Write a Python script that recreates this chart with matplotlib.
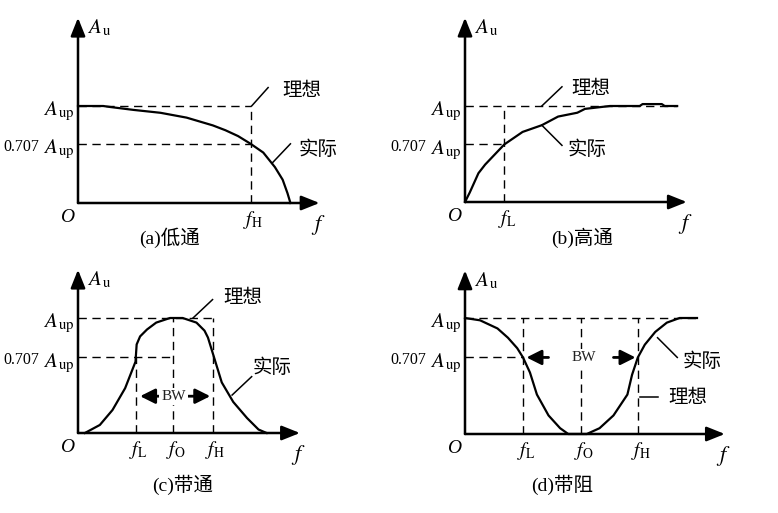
import matplotlib
matplotlib.use('Agg')
import matplotlib.pyplot as plt

plt.rcParams['font.family'] = ['Liberation Serif', 'Noto Sans CJK SC']
plt.rcParams['mathtext.fontset'] = 'stix'

# gain in units of A_up, frequency in the same drawing units

# (a) low-pass
lp_f = [0.00, 0.26, 0.33, 0.57, 0.85, 1.12, 1.39, 1.52, 1.65, 1.78, 1.91, 2.03, 2.11, 2.16, 2.19]
lp_A = [1.00, 1.00, 0.99, 0.96, 0.93, 0.88, 0.80, 0.75, 0.69, 0.61, 0.52, 0.37, 0.24, 0.10, 0.00]
lp_fH = 1.78
lp_half = 0.61

# (b) high-pass
hp_f = [0.00, 0.05, 0.14, 0.21, 0.41, 0.60, 0.80, 0.97, 1.17, 1.25, 1.51, 1.82, 1.85, 2.05, 2.08, 2.21]
hp_A = [0.00, 0.10, 0.30, 0.39, 0.60, 0.73, 0.80, 0.89, 0.93, 0.97, 1.00, 1.00, 1.02, 1.02, 1.00, 1.00]
hp_fL = 0.41
hp_half = 0.60

# (c) band-pass
bp_f = [0.06, 0.19, 0.30, 0.41, 0.50, 0.51, 0.54, 0.60, 0.68, 0.80, 0.91, 1.03, 1.10, 1.13, 1.17,
        1.25, 1.35, 1.47, 1.57, 1.64]
bp_A = [0.00, 0.07, 0.20, 0.39, 0.62, 0.77, 0.84, 0.90, 0.96, 1.00, 1.00, 0.96, 0.89, 0.83, 0.70,
        0.44, 0.27, 0.13, 0.03, 0.00]
bp_fL, bp_f0, bp_fH = 0.50, 0.83, 1.17
bp_half = 0.66

# (d) band-stop
bs_f = [0.00, 0.13, 0.28, 0.37, 0.45, 0.50, 0.56, 0.62, 0.72, 0.82, 0.89, 1.05, 1.16, 1.28,
        1.40, 1.44, 1.49, 1.55, 1.64, 1.74, 1.85, 2.00]
bs_A = [1.00, 0.98, 0.91, 0.83, 0.74, 0.66, 0.53, 0.34, 0.16, 0.05, 0.00, 0.00, 0.05, 0.16,
        0.34, 0.51, 0.66, 0.77, 0.88, 0.96, 1.00, 1.00]
bs_fL, bs_f0, bs_fH = 0.50, 1.00, 1.49
bs_half = 0.66

W, H = 778, 513
fig = plt.figure(figsize=(W / 100, H / 100), dpi=100)

dash = (0, (6, 4))


def make_panel(ox, oy, s):
    # one transparent axes over the whole figure, origin at pixel (ox, oy)
    ax = fig.add_axes([0, 0, 1, 1])
    ax.set_xlim(-ox / s, (W - ox) / s)
    ax.set_ylim(-(H - oy) / s, oy / s)
    ax.set_axis_off()
    ax.patch.set_alpha(0)
    return ax


def draw_frame(ax, x_end, y_end, half, caption, cap_xy):
    for tip in [(x_end, 0), (0, y_end)]:
        ax.annotate('', xy=tip, xytext=(0, 0),
                    arrowprops=dict(arrowstyle='-|>,head_length=0.55,head_width=0.22',
                                    lw=1.8, color='k', shrinkA=0, shrinkB=0,
                                    mutation_scale=20))
    ax.annotate(r'$A_{\,\rm u}$', xy=(0, y_end), xytext=(6.5, -11.5), textcoords='offset points',
                ha='left', va='baseline', fontsize=15)
    ax.annotate(r'$A_{\,\rm up}$', xy=(0, 1), xytext=(-2, -7), textcoords='offset points',
                ha='right', va='baseline', fontsize=15)
    ax.annotate(r'$A_{\,\rm up}$', xy=(0, half), xytext=(-2, -7), textcoords='offset points',
                ha='right', va='baseline', fontsize=15)
    ax.annotate('0.707', xy=(0, half), xytext=(-28, -5), textcoords='offset points',
                ha='right', va='baseline', fontsize=11.5)
    ax.annotate('O', xy=(0, 0), xytext=(-3, -4), textcoords='offset points',
                ha='right', va='top', fontsize=14, style='italic')
    ax.annotate(r'$f$', xy=(x_end, 0), xytext=(-1, -16), textcoords='offset points',
                ha='center', va='center', fontsize=16)
    ax.text(cap_xy[0], cap_xy[1], caption, ha='center', va='center', fontsize=14)


def freq_label(ax, x, sub):
    ax.annotate(r'$f_{\rm %s}$' % sub, xy=(x, 0), xytext=(2, -4), textcoords='offset points',
                ha='center', va='top', fontsize=14)


def callout(ax, p0, p1, label, txy):
    ax.plot([p0[0], p1[0]], [p0[1], p1[1]], color='k', lw=1.1)
    ax.text(txy[0], txy[1], label, ha='left', va='center', fontsize=14)


def bw_arrows(ax, y, left, right, xc):
    for tail, head in [left, right]:
        ax.annotate('', xy=(head, y), xytext=(tail, y),
                    arrowprops=dict(arrowstyle='-|>,head_length=0.5,head_width=0.25',
                                    lw=2, color='k', shrinkA=0, shrinkB=0, mutation_scale=18))
    ax.text(xc, y, 'BW', ha='center', va='center', fontsize=11, color='#222222',
            bbox=dict(facecolor='white', edgecolor='none', pad=1.5))


# (a) low-pass
ax = make_panel(78, 203, 97)
ax.plot([0, lp_fH], [1, 1], 'k', lw=1, ls=dash)
ax.plot([lp_fH, lp_fH], [0, 1], 'k', lw=1, ls=dash)
ax.plot([0, lp_fH], [lp_half, lp_half], 'k', lw=1, ls=dash)
ax.plot(lp_f, lp_A, 'k', lw=1.6)
draw_frame(ax, 2.49, 1.91, lp_half, '(a)低通', (0.94, -0.36))
freq_label(ax, lp_fH, 'H')
callout(ax, (1.79, 1.0), (1.96, 1.19), '理想', (2.11, 1.15))
callout(ax, (2.0, 0.41), (2.19, 0.61), '实际', (2.27, 0.55))

# (b) high-pass
ax = make_panel(465, 202, 96)
ax.plot([0, 2.21], [1, 1], 'k', lw=1, ls=dash)
ax.plot([hp_fL, hp_fL], [0, 1], 'k', lw=1, ls=dash)
ax.plot([0, hp_fL], [hp_half, hp_half], 'k', lw=1, ls=dash)
ax.plot(hp_f, hp_A, 'k', lw=1.6)
draw_frame(ax, 2.31, 1.92, hp_half, '(b)高通', (1.22, -0.375))
freq_label(ax, hp_fL, 'L')
callout(ax, (0.80, 1.0), (1.01, 1.20), '理想', (1.11, 1.17))
callout(ax, (0.80, 0.80), (1.01, 0.59), '实际', (1.07, 0.54))

# (c) band-pass
ax = make_panel(78, 433, 115)
ax.plot([0, bp_fH], [1, 1], 'k', lw=1, ls=dash)
ax.plot([bp_fL, bp_fL], [0, bp_half], 'k', lw=1, ls=dash)
ax.plot([bp_f0, bp_f0], [0, 1], 'k', lw=1, ls=dash)
ax.plot([bp_fH, bp_fH], [0, 1], 'k', lw=1, ls=dash)
ax.plot([0, bp_f0], [bp_half, bp_half], 'k', lw=1, ls=dash)
ax.plot(bp_f, bp_A, 'k', lw=1.6)
draw_frame(ax, 1.93, 1.42, bp_half, '(c)带通', (0.91, -0.45))
for x, sub in [(bp_fL, 'L'), (bp_f0, 'O'), (bp_fH, 'H')]:
    freq_label(ax, x, sub)
bw_arrows(ax, 0.32, (0.74, 0.54), (0.93, 1.15), bp_f0)
callout(ax, (1.0, 1.0), (1.17, 1.16), '理想', (1.26, 1.17))
callout(ax, (1.34, 0.33), (1.51, 0.49), '实际', (1.52, 0.57))

# (d) band-stop
ax = make_panel(465, 434, 116)
ax.plot([0, 2.0], [1, 1], 'k', lw=1, ls=dash)
for x in [bs_fL, bs_f0, bs_fH]:
    ax.plot([x, x], [0, 1], 'k', lw=1, ls=dash)
ax.plot([0, bs_fL], [bs_half, bs_half], 'k', lw=1, ls=dash)
ax.plot(bs_f, bs_A, 'k', lw=1.6)
draw_frame(ax, 2.24, 1.41, bs_half, '(d)带阻', (0.84, -0.44))
for x, sub in [(bs_fL, 'L'), (bs_f0, 'O'), (bs_fH, 'H')]:
    freq_label(ax, x, sub)
bw_arrows(ax, bs_half, (0.72, 0.53), (1.28, 1.47), 1.02)
callout(ax, (1.66, 0.83), (1.83, 0.66), '实际', (1.88, 0.62))
callout(ax, (1.51, 0.32), (1.66, 0.32), '理想', (1.75, 0.31))

fig.savefig('out.png', dpi=100)
